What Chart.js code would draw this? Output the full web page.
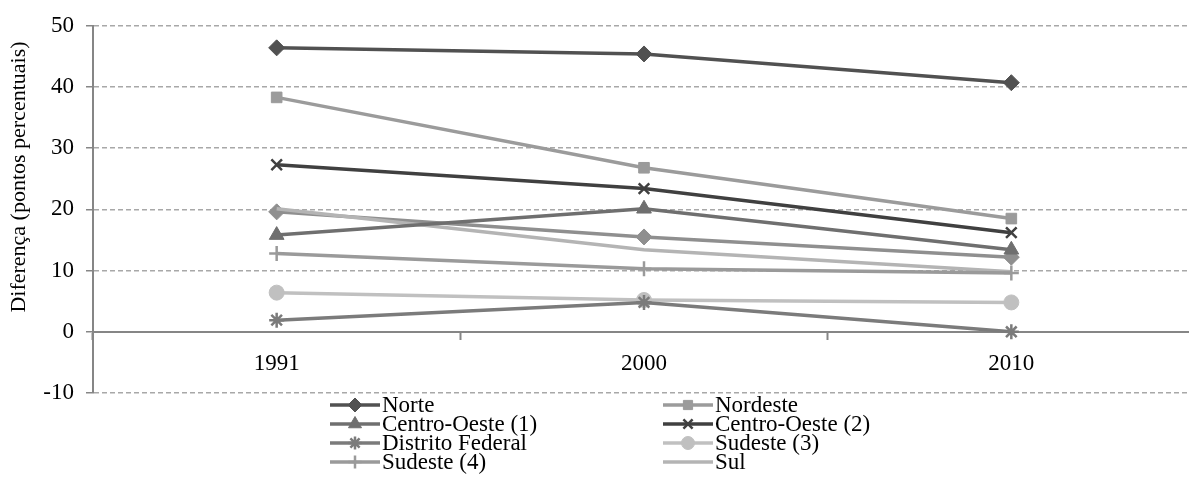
<!DOCTYPE html>
<html>
<head>
  <title>Diferença (pontos percentuais)</title>
  <script src="https://cdn.jsdelivr.net/npm/chart.js"></script>
  <style>
    html, body { margin: 0; padding: 0; background: #fff; overflow: hidden; }
    #wrap { width: 1205px; height: 492px; position: relative; }
  </style>
</head>
<body>
  <div id="wrap"><canvas id="chart"></canvas></div>

  <script>
    // Data
    const years = ['1991', '2000', '2010'];
    const norte = [46.4, 45.4, 40.7];
    const nordeste = [38.3, 26.8, 18.5];
    const centroOeste1 = [15.8, 20.1, 13.4];
    const centroOeste2 = [27.3, 23.4, 16.2];
    const distritoFederal = [1.9, 4.8, 0.0];
    const sudeste3 = [6.4, 5.2, 4.8];
    const sudeste4 = [12.8, 10.3, 9.6];
    const sul = [20.1, 13.4, 9.8];
    const semNome = [19.6, 15.5, 12.2]; // 9th line, no legend entry in the picture

    const FONT = 'Liberation Serif, Times New Roman, serif';
    const FONT_SIZE = 23;

    function line(label, data, color, style, radius) {
      return {
        label: label,
        data: data,
        borderColor: color,
        backgroundColor: color,
        borderWidth: 3.5,
        pointStyle: style,
        pointRadius: radius,
        pointBorderWidth: (style === 'crossRot' || style === 'star' || style === 'cross') ? 2.5 : 1,
        pointBorderColor: color,
        pointBackgroundColor: color,
        tension: 0
      };
    }

    const datasets = [
      line('Norte', norte, '#515151', 'rectRot', 8),
      line('Nordeste', nordeste, '#9b9b9b', 'rect', 7.5),
      line('Centro-Oeste (1)', centroOeste1, '#6f6f6f', 'triangle', 8.5),
      line('Centro-Oeste (2)', centroOeste2, '#404040', 'crossRot', 7.5),
      line('Distrito Federal', distritoFederal, '#7b7b7b', 'star', 7.5),
      line('Sudeste (3)', sudeste3, '#c0c0c0', 'circle', 7.5),
      line('Sudeste (4)', sudeste4, '#9a9a9a', 'cross', 7.5),
      line('Sul', sul, '#b4b4b4', 'line', 0),
      line('', semNome, '#8f8f8f', 'rectRot', 8)
    ];

    // legend in two columns, drawn by hand under the plot
    const legendPlugin = {
      id: 'twoColLegend',
      afterDraw(chart) {
        const ctx = chart.ctx;
        const cols = [330, 663];
        const rowY = 405, rowH = 19;
        let k = 0;
        chart.data.datasets.forEach(ds => {
          if (!ds.label) return;
          const x = cols[k % 2];
          const y = rowY + Math.floor(k / 2) * rowH;
          ctx.save();
          ctx.strokeStyle = ds.borderColor;
          ctx.fillStyle = ds.borderColor;
          ctx.lineWidth = 3.5;
          ctx.beginPath();
          ctx.moveTo(x, y);
          ctx.lineTo(x + 50, y);
          ctx.stroke();
          if (ds.pointRadius > 0) {
            ctx.lineWidth = ds.pointBorderWidth;
            Chart.helpers.drawPoint(ctx, {
              pointStyle: ds.pointStyle,
              radius: ds.pointRadius - 1,
              rotation: 0,
              borderWidth: ds.pointBorderWidth
            }, x + 25, y);
          }
          ctx.fillStyle = '#000';
          ctx.font = FONT_SIZE + 'px ' + FONT;
          ctx.textBaseline = 'middle';
          ctx.textAlign = 'left';
          ctx.fillText(ds.label, x + 52, y + 1);
          ctx.restore();
          k++;
        });
      }
    };

    const yTitlePlugin = {
      id: 'yTitle',
      afterDraw(chart) {
        const ctx = chart.ctx;
        ctx.save();
        ctx.translate(19, 177);
        ctx.rotate(-Math.PI / 2);
        ctx.font = '22px ' + FONT;
        ctx.fillStyle = '#000';
        ctx.textAlign = 'center';
        ctx.textBaseline = 'middle';
        ctx.fillText('Diferença (pontos percentuais)', 0, 0);
        ctx.restore();
      }
    };

    new Chart(document.getElementById('chart'), {
      type: 'line',
      data: { labels: years, datasets: datasets },
      options: {
        responsive: true,
        maintainAspectRatio: false,
        animation: false,
        layout: { padding: { top: 24, right: 6, bottom: 99, left: 0 } },
        plugins: {
          legend: { display: false },
          tooltip: { enabled: false }
        },
        scales: {
          x: {
            position: { y: 0 },
            offset: true,
            grid: {
              offset: true,
              drawOnChartArea: false,
              tickLength: 7,
              tickColor: '#868686',
              tickWidth: 2
            },
            border: { color: '#868686', width: 2 },
            ticks: {
              padding: 11,
              color: '#000',
              font: { family: FONT, size: FONT_SIZE }
            }
          },
          y: {
            min: -10,
            max: 50,
            afterFit(scale) { scale.width = 93; },
            grid: {
              color: '#a8a8a8',
              lineWidth: 1.5,
              tickLength: 7,
              tickColor: '#868686',
              tickWidth: 1.5
            },
            border: { color: '#868686', width: 2, dash: [5, 3] },
            ticks: {
              stepSize: 10,
              padding: 12,
              color: '#000',
              font: { family: FONT, size: FONT_SIZE }
            }
          }
        }
      },
      plugins: [legendPlugin, yTitlePlugin]
    });
  </script>
</body>
</html>
